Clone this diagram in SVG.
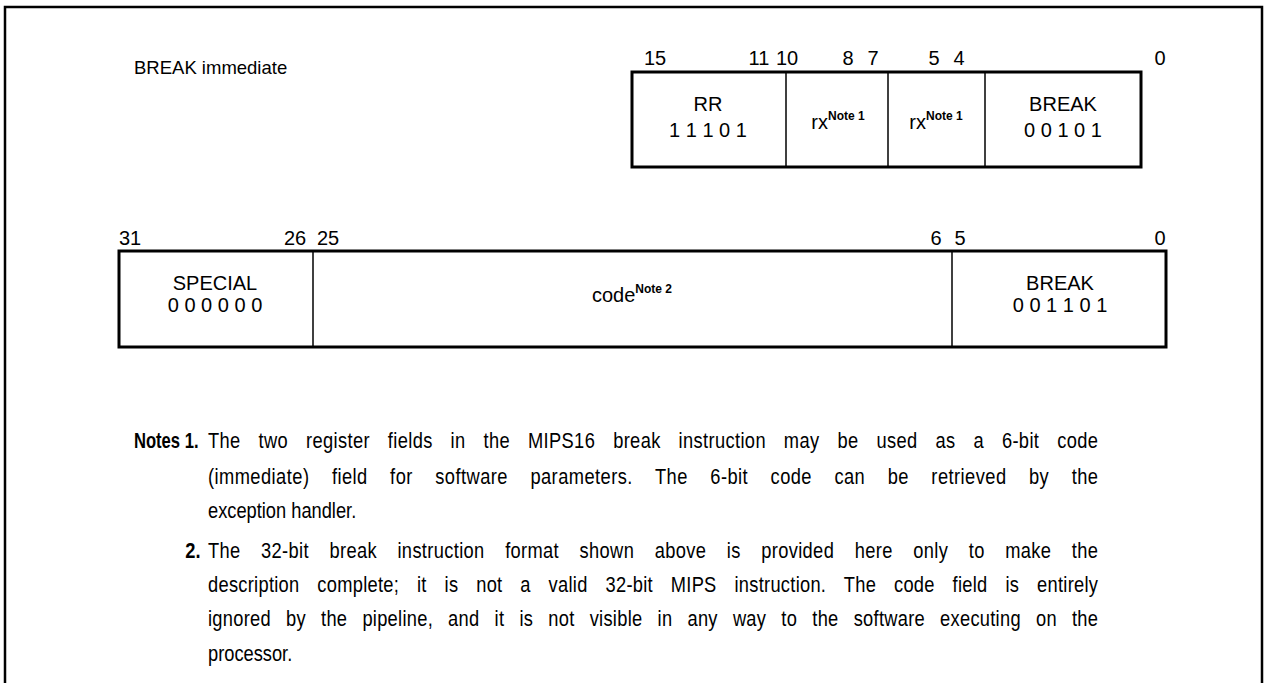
<svg xmlns="http://www.w3.org/2000/svg" width="1264" height="683" viewBox="0 0 1264 683">
<style>
text{font-family:"Liberation Sans",Arial,sans-serif;fill:#000}
.lbl{font-size:20px;text-anchor:middle}
.bit{font-size:20px;text-anchor:middle}
.sup{font-size:12px;font-weight:bold}
.note{font-size:21.5px}
.frame{fill:none;stroke:#000;stroke-width:3}
.div{stroke:#000;stroke-width:1.5}
</style>
<rect width="1264" height="683" fill="#fff"/>
<path d="M5,690 V7 H1262 V690" fill="none" stroke="#000" stroke-width="2.5"/>
<text x="134" y="74" style="font-size:18.5px">BREAK immediate</text>
<g id="mips16">
<text class="bit" x="655" y="65">15</text>
<text class="bit" x="759" y="65">11</text>
<text class="bit" x="787" y="65">10</text>
<text class="bit" x="848" y="65">8</text>
<text class="bit" x="873" y="65">7</text>
<text class="bit" x="934" y="65">5</text>
<text class="bit" x="959" y="65">4</text>
<text class="bit" x="1160" y="65">0</text>
<rect class="frame" x="632" y="72" width="509" height="95"/>
<line class="div" x1="786" y1="72" x2="786" y2="167"/>
<line class="div" x1="888" y1="72" x2="888" y2="167"/>
<line class="div" x1="985" y1="72" x2="985" y2="167"/>
<text class="lbl" x="708" y="111">RR</text>
<text class="lbl" x="708" y="137">1 1 1 0 1</text>
<text class="lbl" x="838" y="129">rx<tspan class="sup" dy="-9">Note 1</tspan></text>
<text class="lbl" x="936" y="129">rx<tspan class="sup" dy="-9">Note 1</tspan></text>
<text class="lbl" x="1063" y="111">BREAK</text>
<text class="lbl" x="1063" y="137">0 0 1 0 1</text>
</g>
<g id="mips32">
<text class="bit" x="130" y="245">31</text>
<text class="bit" x="295" y="245">26</text>
<text class="bit" x="328" y="245">25</text>
<text class="bit" x="936" y="245">6</text>
<text class="bit" x="960" y="245">5</text>
<text class="bit" x="1160" y="245">0</text>
<rect class="frame" x="119" y="251" width="1047" height="96"/>
<line class="div" x1="313" y1="251" x2="313" y2="347"/>
<line class="div" x1="952" y1="251" x2="952" y2="347"/>
<text class="lbl" x="215" y="290">SPECIAL</text>
<text class="lbl" x="215" y="312">0 0 0 0 0 0</text>
<text class="lbl" x="632" y="302">code<tspan class="sup" dy="-9">Note 2</tspan></text>
<text class="lbl" x="1060" y="290">BREAK</text>
<text class="lbl" x="1060" y="312">0 0 1 1 0 1</text>
</g>
<g id="notes" transform="scale(0.85 1)">
<text class="note" x="157.6" y="448" font-weight="bold" textLength="76" lengthAdjust="spacingAndGlyphs">Notes 1.</text>
<text class="note" x="244.7" y="448" word-spacing="14.7" textLength="1047" lengthAdjust="spacing">The two register fields in the MIPS16 break instruction may be used as a 6-bit code</text>
<text class="note" x="244.7" y="484" word-spacing="19.9" textLength="1047" lengthAdjust="spacing">(immediate) field for software parameters. The 6-bit code can be retrieved by the</text>
<text class="note" x="244.7" y="518">exception handler.</text>
<text class="note" x="218" y="558" font-weight="bold">2.</text>
<text class="note" x="244.7" y="558" word-spacing="17.8" textLength="1047" lengthAdjust="spacing">The 32-bit break instruction format shown above is provided here only to make the</text>
<text class="note" x="244.7" y="592" word-spacing="14.7" textLength="1047" lengthAdjust="spacing">description complete; it is not a valid 32-bit MIPS instruction. The code field is entirely</text>
<text class="note" x="244.7" y="626" word-spacing="11.5" textLength="1047" lengthAdjust="spacing">ignored by the pipeline, and it is not visible in any way to the software executing on the</text>
<text class="note" x="244.7" y="661">processor.</text>
</g>
</svg>
